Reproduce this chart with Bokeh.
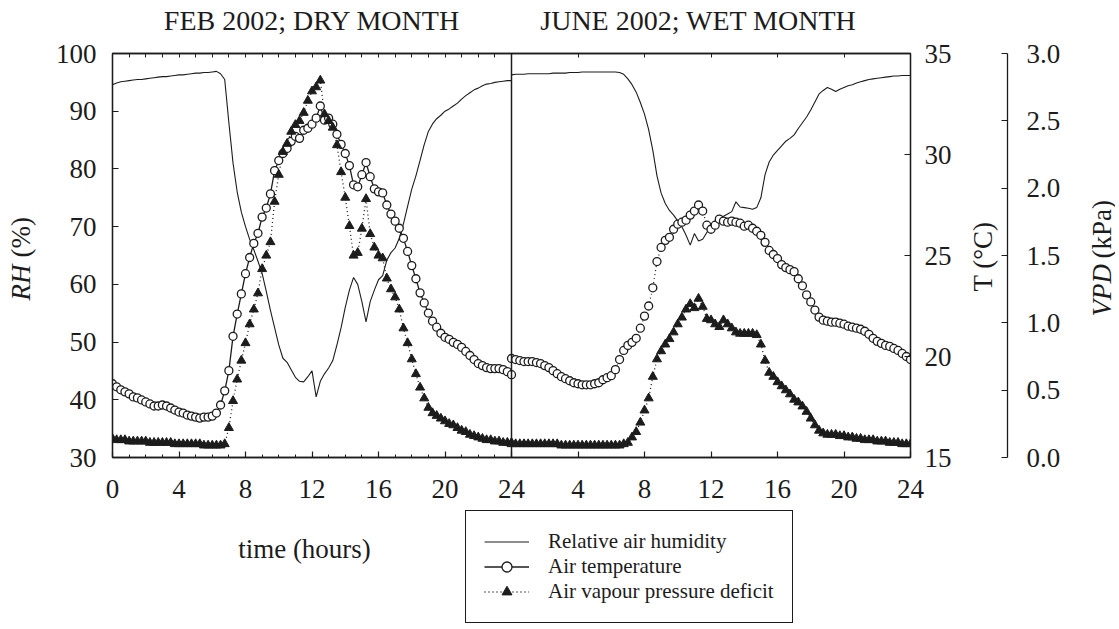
from math import pi
from bokeh.plotting import figure
from bokeh.layouts import row, column
from bokeh.models import (Range1d, LinearAxis, FixedTicker, Span, Label, Legend,
                          LegendItem, PrintfTickFormatter)
from bokeh.embed import file_html
from bokeh.resources import INLINE

# ---------------- data (15-min readings, hour 0 .. 24) ----------------
hours = [i / 4 for i in range(97)]

feb_rh = [94.6, 94.9, 95.1, 95.2, 95.3, 95.4, 95.5, 95.5, 95.6, 95.7, 95.8, 95.9,
          96.0, 96.0, 96.1, 96.2, 96.3, 96.3, 96.4, 96.5, 96.6, 96.6, 96.7, 96.7,
          96.8, 96.9, 96.5, 95.5,
          88.0, 81.0, 76.0, 72.5, 70.0, 67.8, 66.0, 64.0, 61.9, 58.8, 55.5, 52.5,
          49.5, 47.2, 46.5, 45.2, 43.9, 43.2, 43.1, 44.0, 45.0, 40.5, 43.2, 44.5,
          45.5, 46.8, 49.5, 52.5, 56.0, 59.0, 61.2, 60.0, 57.0, 53.5, 57.0, 59.0,
          60.8, 61.5, 64.2, 65.5, 66.3, 68.0, 70.5, 73.5, 76.5, 78.8, 81.5, 84.2,
          86.5, 87.8, 88.7, 89.3, 90.0, 90.4, 90.9, 91.4, 92.1, 92.7, 93.2, 93.7,
          94.0, 94.4, 94.7, 94.8, 95.0, 95.1, 95.2, 95.3, 95.3]

feb_t = [18.65, 18.5, 18.35, 18.25, 18.15, 18.0, 17.95, 17.85, 17.75, 17.65, 17.55, 17.55,
         17.6, 17.55, 17.45, 17.35, 17.25, 17.2, 17.1, 17.05, 17.0, 16.95, 17.0, 17.0,
         17.05, 17.2, 17.6, 18.3,
         19.3, 21.0, 22.1, 23.1, 24.1, 24.9, 25.6, 26.1, 26.9, 27.35, 28.05, 29.2,
         29.7, 30.05, 30.3, 30.65, 30.9, 30.8, 31.2, 31.3, 31.5, 31.8, 32.4, 31.7,
         31.8, 31.5, 31.0, 30.5, 30.05, 29.45, 28.5, 28.4, 29.0, 29.6, 28.9, 28.3,
         28.15, 28.1, 27.5, 27.05, 26.7, 26.35, 25.85, 25.2, 24.5, 23.85, 23.15, 22.65,
         22.15, 21.75, 21.45, 21.15, 20.95, 20.85, 20.7, 20.6, 20.45, 20.25, 20.05, 19.85,
         19.65, 19.55, 19.45, 19.4, 19.4, 19.4, 19.35, 19.25, 19.1]

feb_vpd = [0.14, 0.13, 0.13, 0.13, 0.12, 0.12, 0.12, 0.12, 0.12, 0.11, 0.11, 0.11,
           0.11, 0.11, 0.11, 0.10, 0.10, 0.10, 0.10, 0.10, 0.10, 0.10, 0.09, 0.09,
           0.09, 0.09, 0.09, 0.10,
           0.22, 0.42, 0.58, 0.72, 0.85, 0.99, 1.10, 1.22, 1.40, 1.50, 1.60, 1.90,
           2.10, 2.27, 2.33, 2.42, 2.47, 2.50, 2.56, 2.65, 2.72, 2.75, 2.80, 2.55,
           2.50, 2.45, 2.32, 2.12, 1.93, 1.72, 1.50, 1.52, 1.70, 1.92, 1.66, 1.56,
           1.50, 1.48, 1.33, 1.25, 1.19, 1.10, 0.96, 0.85, 0.73, 0.62, 0.52, 0.44,
           0.37, 0.33, 0.31, 0.29, 0.27, 0.25, 0.24, 0.22, 0.20, 0.19, 0.17, 0.16,
           0.15, 0.14, 0.13, 0.13, 0.12, 0.12, 0.11, 0.11, 0.11]

jun_rh = [96.3, 96.4, 96.4, 96.4, 96.5, 96.5, 96.5, 96.5, 96.5, 96.5, 96.6, 96.6,
          96.6, 96.6, 96.7, 96.7, 96.7, 96.8, 96.8, 96.8, 96.8, 96.8, 96.8, 96.8,
          96.8, 96.8, 96.7, 96.4,
          95.6, 94.6, 93.3, 91.5, 89.5, 86.8, 83.2, 78.8, 75.8, 74.0, 72.8, 72.0,
          71.0, 70.0, 68.5, 66.8, 68.8, 67.5, 67.8, 69.0, 70.0, 71.0, 71.3, 71.8,
          72.2, 72.6, 74.3, 73.4, 73.3, 73.2, 73.0, 73.3, 75.0, 79.0, 81.2, 82.4,
          83.2, 84.0, 84.8, 85.3, 85.9, 87.0, 88.0, 89.0, 90.2, 91.6, 93.0, 93.6,
          94.1, 93.8, 93.4, 93.8, 94.1, 94.4, 94.6, 94.9, 95.1, 95.3, 95.5, 95.6,
          95.7, 95.8, 95.9, 96.0, 96.1, 96.1, 96.2, 96.2, 96.2]

jun_t = [19.9, 19.85, 19.8, 19.75, 19.75, 19.75, 19.7, 19.65, 19.55, 19.45, 19.3, 19.15,
         19.0, 18.9, 18.8, 18.7, 18.65, 18.6, 18.6, 18.6, 18.65, 18.7, 18.85, 18.95,
         19.05, 19.35, 19.85, 20.3,
         20.55, 20.7, 20.9, 21.4, 22.0, 22.5, 23.4, 24.7, 25.4, 25.75, 25.9, 26.3,
         26.55, 26.65, 26.75, 27.0, 27.2, 27.5, 27.2, 26.5, 26.3, 26.5, 26.8, 26.7,
         26.65, 26.7, 26.65, 26.6, 26.45, 26.5, 26.35, 26.2, 26.0, 25.65, 25.25, 25.05,
         24.85, 24.55, 24.4, 24.3, 24.2, 23.85, 23.5, 23.05, 22.7, 22.3, 21.95, 21.8,
         21.75, 21.7, 21.7, 21.65, 21.6, 21.5, 21.45, 21.4, 21.35, 21.25, 21.1, 20.9,
         20.75, 20.65, 20.55, 20.5, 20.4, 20.3, 20.15, 20.0, 19.85]

jun_vpd = [0.10, 0.10, 0.10, 0.10, 0.10, 0.10, 0.10, 0.10, 0.10, 0.10, 0.10, 0.10,
           0.09, 0.09, 0.09, 0.09, 0.09, 0.09, 0.09, 0.09, 0.09, 0.09, 0.09, 0.09,
           0.09, 0.09, 0.09, 0.10,
           0.11, 0.15, 0.19, 0.26, 0.35, 0.44, 0.60, 0.73, 0.79, 0.84, 0.88, 0.93,
           0.99, 1.04, 1.10, 1.14, 1.11, 1.18, 1.12, 1.03, 1.02, 0.99, 0.97, 1.02,
           0.99, 0.96, 0.93, 0.92, 0.92, 0.92, 0.92, 0.91, 0.84, 0.72, 0.63, 0.60,
           0.56, 0.53, 0.50, 0.47, 0.43, 0.41, 0.38, 0.34, 0.29, 0.24, 0.20, 0.18,
           0.17, 0.17, 0.17, 0.16, 0.16, 0.15, 0.15, 0.14, 0.14, 0.13, 0.13, 0.13,
           0.12, 0.12, 0.12, 0.11, 0.11, 0.11, 0.10, 0.10, 0.10]

x_tick_pos = [0, 4, 8, 12, 16, 20, 24, 28, 32, 36, 40, 44, 48]
x_tick_labels = ["0", "4", "8", "12", "16", "20", "24", "4", "8", "12", "16", "20", "24"]
rh_ticks = [30, 40, 50, 60, 70, 80, 90, 100]
t_ticks = [15, 20, 25, 30, 35]
vpd_ticks = [0.0, 0.5, 1.0, 1.5, 2.0, 2.5, 3.0]
panel_titles = {12: "FEB 2002; DRY MONTH", 35.25: "JUNE 2002; WET MONTH"}
legend_labels = ["Relative air humidity", "Air temperature", "Air vapour pressure deficit"]

# ---------------- styling ----------------
FONT = "Liberation Serif"
INK = "#1c1c1c"
TICK_FS = "27px"
TOP_H = 510          # height of the row holding the chart
FRAME_BOTTOM = 457   # frame bottom (px from top) shared by the row
SIDE_W = 40
MAIN_W = 925
VPD_W = 110
BOTTOM_H = 115
NAN = float("nan")


def blank_fig(w, h, **kw):
    opts = dict(min_border_left=0, min_border_right=0, min_border_top=0, min_border_bottom=0,
                x_axis_location=None, y_axis_location=None)
    opts.update(kw)
    f = figure(width=w, height=h, output_backend="svg", toolbar_location=None,
               x_range=Range1d(0, 1), y_range=Range1d(0, 1), **opts)
    f.grid.visible = False
    f.outline_line_color = None
    f.background_fill_color = "white"
    f.border_fill_color = "white"
    return f


def add_label(fig, text, x, y, size=TICK_FS, style="normal", angle=0.0, align="center"):
    fig.add_layout(Label(x=x, y=y, x_units="screen", y_units="screen", text=text,
                         text_font=FONT, text_font_size=size, text_font_style=style,
                         text_color=INK, text_align=align, text_baseline="middle",
                         angle=angle))


def style_axis(ax, standoff=12):
    ax.major_label_text_font = FONT
    ax.major_label_text_font_size = TICK_FS
    ax.major_label_text_color = INK
    ax.axis_line_color = INK
    ax.axis_line_width = 1.3
    ax.major_tick_line_color = INK
    ax.major_tick_line_width = 1.2
    ax.major_tick_in = 6
    ax.major_tick_out = 0
    ax.minor_tick_line_color = INK
    ax.minor_tick_in = 3
    ax.minor_tick_out = 0
    ax.major_label_standoff = standoff


# ---------------- main chart ----------------
p = figure(width=MAIN_W, height=TOP_H, output_backend="svg", toolbar_location=None,
           x_range=Range1d(0, 48), y_range=Range1d(30, 100),
           min_border_left=72, min_border_right=55, min_border_top=53,
           min_border_bottom=TOP_H - FRAME_BOTTOM)
p.extra_x_ranges = {"jun": Range1d(-24, 24)}
p.extra_y_ranges = {"t": Range1d(15, 35), "vpd": Range1d(0, 3)}
p.grid.visible = False
p.outline_line_color = INK
p.outline_line_width = 1.3
p.background_fill_color = "white"
p.border_fill_color = "white"

xticker = FixedTicker(ticks=x_tick_pos, minor_ticks=list(range(0, 25)))
xax = p.xaxis[0]
xax.ticker = xticker
xax.major_label_overrides = {k: v for k, v in zip(x_tick_pos, x_tick_labels)}
style_axis(xax, 22)

top = LinearAxis(ticker=FixedTicker(ticks=list(panel_titles.keys()),
                                    minor_ticks=list(range(0, 25)) + [28, 32, 36, 40, 44, 48]))
style_axis(top, 18)
top.major_tick_in = 0
top.minor_tick_in = 4
top.major_label_overrides = dict(panel_titles)
top.major_label_text_font_size = "28px"
p.add_layout(top, "above")

yax = p.yaxis[0]
yax.ticker = FixedTicker(ticks=rh_ticks, minor_ticks=[])
style_axis(yax, 16)

t_axis = LinearAxis(y_range_name="t", ticker=FixedTicker(ticks=t_ticks, minor_ticks=[]))
style_axis(t_axis, 14)
p.add_layout(t_axis, "right")

p.add_layout(Span(location=24, dimension="height", line_color=INK, line_width=1.5))

p.line(hours, feb_rh, line_color=INK, line_width=1.1)
p.line(hours, jun_rh, x_range_name="jun", line_color=INK, line_width=1.1)

p.line(hours, feb_t, y_range_name="t", line_color=INK, line_width=1.3)
p.line(hours, jun_t, x_range_name="jun", y_range_name="t", line_color=INK,
       line_width=1.2, line_dash="1 3")

p.line(hours, feb_vpd, y_range_name="vpd", line_color=INK, line_width=1.3, line_dash="1 3")
p.line(hours, jun_vpd, x_range_name="jun", y_range_name="vpd", line_color=INK,
       line_width=1.3, line_dash="1 3")

p.scatter(hours, feb_t, y_range_name="t", marker="circle", size=8,
          fill_color="white", line_color=INK, line_width=1.3)
p.scatter(hours, jun_t, x_range_name="jun", y_range_name="t", marker="circle",
          size=8, fill_color="white", line_color=INK, line_width=1.3)

p.scatter(hours, feb_vpd, y_range_name="vpd", marker="triangle", size=9,
          fill_color=INK, line_color=INK)
p.scatter(hours, jun_vpd, x_range_name="jun", y_range_name="vpd",
          marker="triangle", size=9, fill_color=INK, line_color=INK)

# ---------------- strip with T title and the separate VPD axis ----------------
vfig = figure(width=VPD_W, height=TOP_H, output_backend="svg", toolbar_location=None,
              x_range=Range1d(0, 1), y_range=Range1d(0, 3),
              x_axis_location=None, y_axis_location="right",
              min_border_left=0, min_border_right=68, min_border_top=53,
              min_border_bottom=TOP_H - FRAME_BOTTOM)
vfig.grid.visible = False
vfig.outline_line_color = None
vfig.background_fill_color = "white"
vfig.border_fill_color = "white"
vax = vfig.yaxis[0]
vax.ticker = FixedTicker(ticks=vpd_ticks, minor_ticks=[])
vax.formatter = PrintfTickFormatter(format="%.1f")
style_axis(vax, 19)
add_label(vfig, "T (°C)", 17, FRAME_BOTTOM - 256, angle=pi / 2)

# ---------------- side strips with rotated axis titles ----------------
left = blank_fig(SIDE_W, TOP_H)
add_label(left, "RH", 20, FRAME_BOTTOM - 300, style="italic", angle=pi / 2, align="left")
add_label(left, "(%)", 20, FRAME_BOTTOM - 257, angle=pi / 2, align="left")

right = blank_fig(SIDE_W, TOP_H)
add_label(right, "VPD", 26, FRAME_BOTTOM - 316, style="italic", angle=pi / 2, align="left")
add_label(right, "(kPa)", 26, FRAME_BOTTOM - 258, angle=pi / 2, align="left")

# ---------------- bottom strip: x title and legend ----------------
bottom = blank_fig(SIDE_W * 2 + MAIN_W + VPD_W, BOTTOM_H)
add_label(bottom, "time (hours)", 304, BOTTOM_H - 38)

# legend swatches (no visible data, only their style is shown in the key)
k_rh = bottom.line([NAN], [NAN], line_color=INK, line_width=1.1)
k_tl = bottom.line([NAN], [NAN], line_color=INK, line_width=1.3)
k_tp = bottom.scatter([NAN], [NAN], marker="circle", size=8, fill_color="white",
                      line_color=INK, line_width=1.3)
k_vl = bottom.line([NAN], [NAN], line_color=INK, line_width=1.3, line_dash="1 3")
k_vp = bottom.scatter([NAN], [NAN], marker="triangle", size=9, fill_color=INK,
                      line_color=INK)

legend = Legend(items=[
    LegendItem(label=legend_labels[0], renderers=[k_rh]),
    LegendItem(label=legend_labels[1], renderers=[k_tl, k_tp]),
    LegendItem(label=legend_labels[2], renderers=[k_vl, k_vp]),
], location=(465, 2))
legend.label_text_font = FONT
legend.label_text_font_size = "21px"
legend.label_text_color = INK
legend.glyph_width = 45
legend.glyph_height = 25
legend.label_height = 25
legend.label_standoff = 19
legend.spacing = 0
legend.padding = 18
legend.margin = 0
legend.border_line_color = INK
legend.border_line_alpha = 1.0
legend.border_line_width = 1.2
legend.background_fill_color = "white"
legend.background_fill_alpha = 1.0
bottom.add_layout(legend)

layout = column(row(left, p, vfig, right), bottom)
open("out.html", "w").write(file_html(layout, INLINE))
